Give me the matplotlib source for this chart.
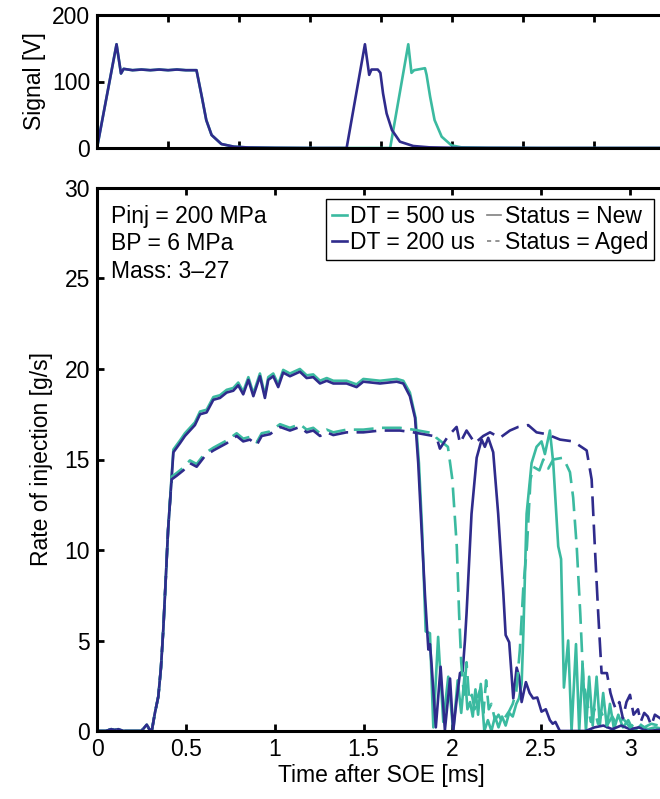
import matplotlib
matplotlib.use('Agg')
import matplotlib.pyplot as plt
from matplotlib.lines import Line2D

plt.rcParams['font.family'] = ['Liberation Sans', 'DejaVu Sans']
plt.rcParams['font.size'] = 16.5

teal = '#3bbaa0'
navy = '#2f2b8c'

# ---- top panel: injector signal [V] ----
sig_t_200 = [0, 0.11, 0.135, 0.15, 0.2, 0.25, 0.3, 0.35, 0.4, 0.45, 0.5, 0.56,
             0.59, 0.615, 0.645, 0.70, 0.77, 0.85, 1.0, 1.2, 1.405, 1.508, 1.532,
             1.545, 1.58, 1.595, 1.61, 1.63, 1.66, 1.705, 1.78, 1.87, 2.0, 2.5, 3.2]
sig_v_200 = [0, 156, 112, 119, 117, 118, 117, 118, 117, 118, 117, 117,
             77, 42, 19.5, 6, 2, 0.8, 0.3, 0, 0, 156, 110,
             118, 118, 113, 82, 52, 27, 9.5, 3, 1, 0.3, 0, 0]
sig_t_500 = [0, 0.11, 0.135, 0.15, 0.2, 0.25, 0.3, 0.35, 0.4, 0.45, 0.5, 0.56,
             0.59, 0.615, 0.645, 0.70, 0.77, 0.85, 1.0, 1.2, 1.65, 1.752, 1.77,
             1.785, 1.846, 1.855, 1.875, 1.90, 1.94, 1.995, 2.05, 2.2, 2.5, 3.2]
sig_v_500 = [0, 156, 112, 119, 117, 118, 117, 118, 117, 118, 117, 117,
             77, 42, 19.5, 6, 2, 0.8, 0.3, 0, 0, 156, 113,
             117, 120, 110, 77, 42, 17, 4, 1, 0.3, 0, 0]

# ---- bottom panel: rate of injection [g/s] ----
# common start of the injection
t_rise = [0, 0.05, 0.08, 0.1, 0.12, 0.15, 0.2, 0.25, 0.28, 0.3, 0.31, 0.326,
          0.345, 0.36, 0.373, 0.385, 0.40]
r_rise = [0, 0, 0.1, 0.05, 0.1, 0, 0, 0, 0.35, 0, 0.1, 1.0,
          1.9, 3.5, 5.6, 8.0, 11.1]

# DT = 200 us, New
t_200_new = t_rise + [
    0.43, 0.467, 0.495, 0.523, 0.551, 0.58, 0.617, 0.655, 0.692, 0.73, 0.767,
    0.795, 0.823, 0.852, 0.88, 0.917, 0.945, 0.964, 0.992, 1.02, 1.048, 1.086,
    1.142, 1.18, 1.217, 1.255, 1.293, 1.33, 1.405, 1.461, 1.499, 1.593, 1.687,
    1.724, 1.761, 1.79, 1.808, 1.827, 1.846, 1.865, 1.874, 1.883, 1.907, 1.934,
    1.958, 1.987, 2.005, 2.024, 2.043, 2.058, 2.071, 2.08, 2.108, 2.137, 2.165,
    2.183, 2.202, 2.23, 2.258, 2.287, 2.30, 2.32, 2.343, 2.362, 2.376, 2.39,
    2.414, 2.435, 2.455, 2.478, 2.502, 2.526, 2.549, 2.565, 2.58, 2.605, 2.65,
    2.75, 2.80, 2.85, 2.9, 2.95, 3.0, 3.05, 3.1, 3.2]
r_200_new = r_rise + [
    15.4, 15.9, 16.3, 16.6, 16.9, 17.5, 17.6, 18.3, 18.4, 18.7, 18.8,
    19.1, 18.6, 19.4, 18.5, 19.6, 18.4, 19.4, 19.6, 19.0, 19.8, 19.6,
    19.85, 19.5, 19.55, 19.2, 19.35, 19.2, 19.2, 19.0, 19.3, 19.2, 19.3,
    19.2, 18.5, 17.3, 14.8, 11.1, 7.5, 4.5, 4.8, 3.7, 0.2, 3.55,
    0.05, 2.9, 0, 1.7, 3.2, 3.3, 5.0, 6.5, 12.0, 15.1, 16.1,
    15.7, 16.2, 15.4, 12.0, 7.6, 5.3, 4.9, 1.8, 3.5, 3.0, 1.6,
    2.7, 2.1, 1.8, 1.85, 1.07, 1.2, 0.6, 0.4, 0.5, 0, 0,
    0, 0.2, 0.3, 0.1, 0.3, 0.1, 0.2, 0, 0.1]

# DT = 500 us, New
t_500_new = t_rise + [
    0.43, 0.467, 0.495, 0.523, 0.551, 0.58, 0.617, 0.655, 0.692, 0.73, 0.767,
    0.795, 0.823, 0.852, 0.88, 0.917, 0.945, 0.964, 0.992, 1.02, 1.048, 1.086,
    1.142, 1.18, 1.217, 1.255, 1.293, 1.33, 1.405, 1.461, 1.499, 1.593, 1.687,
    1.724, 1.761, 1.793, 1.812, 1.83, 1.85, 1.874, 1.893, 1.92, 1.949, 1.977,
    2.005, 2.03, 2.05, 2.07, 2.085, 2.10, 2.115, 2.13, 2.145, 2.16, 2.18, 2.20,
    2.22, 2.24, 2.26, 2.28, 2.30, 2.32, 2.34, 2.36, 2.375, 2.39, 2.40, 2.418,
    2.446, 2.474, 2.502, 2.521, 2.549, 2.568, 2.596, 2.612, 2.628, 2.652,
    2.671, 2.696, 2.714, 2.733, 2.752, 2.77, 2.79, 2.812, 2.83, 2.849, 2.87,
    2.887, 2.91, 2.934, 2.96, 2.99, 3.02, 3.06, 3.1, 3.14, 3.2]
r_500_new = r_rise + [
    15.55, 16.05, 16.45, 16.75, 17.05, 17.65, 17.75, 18.45, 18.55, 18.85, 18.95,
    19.25, 18.75, 19.55, 18.65, 19.75, 18.55, 19.55, 19.75, 19.15, 19.95, 19.75,
    20.0, 19.65, 19.7, 19.35, 19.5, 19.35, 19.35, 19.15, 19.45, 19.35, 19.45,
    19.35, 18.7, 17.3, 14.8, 11.1, 5.5, 5.4, 0.2, 5.2, 0.5, 3.0,
    0, 2.8, 1.0, 3.2, 1.2, 1.6, 0.8, 2.3, 0.9, 2.6, 0, 0.6,
    0, 0.8, 0.2, 0.8, 0.3, 1.0, 0.8, 1.5, 1.8, 2.6, 5.5, 12.0,
    14.8, 15.7, 16.0, 15.3, 16.6, 14.8, 10.2, 9.5, 2.4, 5.0,
    0, 4.8, 0, 3.7, 0, 3.0, 0.3, 3.0, 0.3, 2.1, 0.2,
    1.5, 0.1, 0.9, 0.2, 0.6, 0, 0.3, 0.1, 0.2, 0.1]

# DT = 200 us, Aged
t_200_aged = t_rise + [
    0.42, 0.448, 0.486, 0.523, 0.561, 0.608, 0.655, 0.73, 0.786, 0.823, 0.861,
    0.899, 0.927, 0.974, 1.03, 1.086, 1.142, 1.18, 1.217, 1.255, 1.293, 1.33,
    1.405, 1.499, 1.593, 1.705, 1.78, 1.893, 1.915, 1.93, 1.977, 2.024, 2.043,
    2.08, 2.127, 2.174, 2.212, 2.268, 2.324, 2.371, 2.427, 2.474, 2.531, 2.606,
    2.68, 2.756, 2.784, 2.802, 2.821, 2.84, 2.87, 2.89, 2.905, 2.92, 2.94,
    2.96, 2.98, 3.0, 3.02, 3.045, 3.06, 3.08, 3.10, 3.12, 3.14, 3.2]
r_200_aged = r_rise + [
    13.9, 14.1, 14.4, 14.8, 14.6, 15.2, 15.5, 15.9, 16.3, 16.0, 16.1,
    15.8, 16.3, 16.4, 16.8, 16.6, 16.8, 16.5, 16.6, 16.3, 16.5, 16.35,
    16.5, 16.5, 16.6, 16.6, 16.5, 16.3, 16.1, 15.6, 16.3, 16.8, 15.9,
    16.6, 15.9, 16.3, 16.5, 16.2, 16.6, 16.8, 16.9, 16.5, 16.4, 16.1,
    16.0, 15.5, 13.9, 10.2, 6.5, 3.2, 3.2, 2.1, 1.6, 1.2, 1.6,
    0.7, 1.6, 2.0, 0.9, 1.2, 0.5, 1.0, 0.8, 0.3, 0.9, 0.5]

# DT = 500 us, Aged
t_500_aged = t_rise + [
    0.42, 0.448, 0.486, 0.523, 0.561, 0.608, 0.655, 0.73, 0.786, 0.823, 0.861,
    0.899, 0.927, 0.974, 1.03, 1.086, 1.142, 1.18, 1.217, 1.255, 1.293, 1.33,
    1.405, 1.499, 1.593, 1.705, 1.78, 1.893, 1.91, 1.975, 2.0, 2.025, 2.038,
    2.05, 2.065, 2.08, 2.095, 2.11, 2.125, 2.14, 2.16, 2.175, 2.19, 2.205,
    2.22, 2.24, 2.26, 2.28, 2.30, 2.32, 2.34, 2.36, 2.38, 2.40, 2.42, 2.44,
    2.455, 2.49, 2.512, 2.54, 2.568, 2.624, 2.662, 2.68, 2.70, 2.72, 2.737,
    2.76, 2.78, 2.80, 2.82, 2.84, 2.87, 2.9, 2.93, 2.96, 3.0, 3.04, 3.08,
    3.12, 3.2]
r_500_aged = r_rise + [
    14.05, 14.25, 14.55, 14.95, 14.75, 15.35, 15.65, 16.05, 16.45, 16.15, 16.25,
    15.95, 16.45, 16.55, 16.95, 16.75, 16.95, 16.65, 16.75, 16.45, 16.65, 16.5,
    16.65, 16.65, 16.75, 16.75, 16.65, 16.45, 16.2, 15.7, 13.9, 10.2, 6.5,
    3.8, 2.0, 3.8, 1.7, 2.0, 1.2, 1.8, 2.4, 1.0, 2.8, 1.2,
    1.5, 0.6, 0.9, 0.5, 0.8, 1.1, 1.5, 2.2, 4.5, 8.0, 10.2, 13.9,
    14.6, 14.4, 15.0, 14.5, 15.0, 15.1, 14.3, 12.9, 10.2, 6.5, 2.8,
    1.5, 0.5, 1.2, 0.4, 1.0, 0.3, 0.8, 0.3, 0.7, 0.2, 0.5, 0.2,
    0.4, 0.2]

x_ticks_bot = [0, 0.5, 1, 1.5, 2, 2.5, 3]
x_ticks_top = [0, 0.4, 0.8, 1.2, 1.6, 2.0, 2.4, 2.8]
y_ticks_bot = [0, 5, 10, 15, 20, 25, 30]
y_ticks_top = [0, 100, 200]
info_lines = ['Pinj = 200 MPa', 'BP = 6 MPa', 'Mass: 3\u201327']

fig = plt.figure(figsize=(6.6, 7.99), dpi=100)
W, H = 660.0, 799.0
px_ms = 177.67
xmax = 3.2
ax_w = xmax * px_ms / W

ax_top = fig.add_axes([97 / W, 1 - 148 / H, ax_w, (148 - 15) / H])
ax = fig.add_axes([97 / W, 1 - 731 / H, ax_w, (731 - 188) / H])

lw = 1.9
ax_top.plot(sig_t_500, sig_v_500, color=teal, lw=lw)
ax_top.plot(sig_t_200, sig_v_200, color=navy, lw=lw)
ax_top.set_xlim(0, xmax)
ax_top.set_ylim(0, 200)
ax_top.set_xticks(x_ticks_top)
ax_top.set_xticklabels([])
ax_top.set_yticks(y_ticks_top)
ax_top.set_ylabel('Signal [V]')

dash = (7.5, 3.2)
ax.plot(t_500_new, r_500_new, color=teal, lw=lw)
ax.plot(t_200_new, r_200_new, color=navy, lw=lw)
ax.plot(t_500_aged, r_500_aged, color=teal, lw=lw, dashes=dash)
ax.plot(t_200_aged, r_200_aged, color=navy, lw=lw, dashes=dash)
ax.set_xlim(0, xmax)
ax.set_ylim(0, 30)
ax.set_xticks(x_ticks_bot)
ax.set_xticklabels(['0', '0.5', '1', '1.5', '2', '2.5', '3'])
ax.set_yticks(y_ticks_bot)
ax.set_xlabel('Time after SOE [ms]', labelpad=2)
ax.set_ylabel('Rate of injection [g/s]', labelpad=8)

for a in (ax, ax_top):
    for s in a.spines.values():
        s.set_linewidth(2.2)
    a.tick_params(direction='in', length=5, width=2, top=True, right=False,
                  labelsize=16.5, pad=5)

for i, txt in enumerate(info_lines):
    ax.text((111 - 97) / 568.5, (731 - 217 - 27 * i) / 543.0, txt,
            transform=ax.transAxes, va='center', ha='left', fontsize=16.5)

handles = [Line2D([], [], color=teal, lw=lw),
           Line2D([], [], color=navy, lw=lw),
           Line2D([], [], color='#808080', lw=1.2),
           Line2D([], [], color='#808080', lw=1.2, dashes=(2.5, 2.5))]
labels = ['DT = 500 us', 'DT = 200 us', 'Status = New', 'Status = Aged']
leg = ax.legend(handles, labels, ncol=2, loc='upper left',
                bbox_to_anchor=((326 - 97) / 568.5, (731 - 199) / 543.0),
                borderaxespad=0, handlelength=0.65, handletextpad=0.15,
                columnspacing=0.5, labelspacing=0.15, borderpad=0.25,
                fancybox=False, framealpha=1, edgecolor='black',
                fontsize=16.5)
leg.get_frame().set_linewidth(1.0)

fig.savefig('out.png', dpi=100)
